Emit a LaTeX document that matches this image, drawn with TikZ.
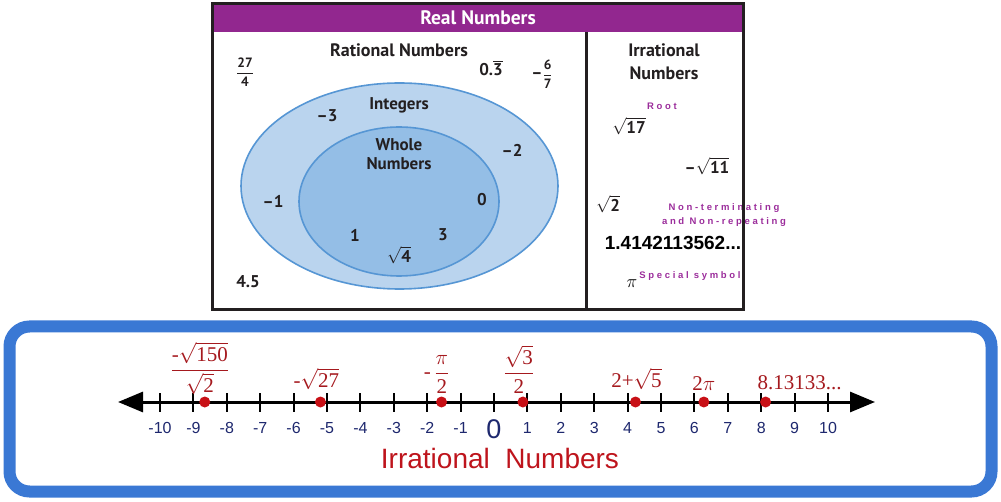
\RequirePackage{fix-cm}
\documentclass[tikz,border=0pt]{standalone}
\usepackage{amsmath}
\usepackage{fontspec}
\setmainfont{Liberation Sans}
\newfontfamily\ptsans{PT Sans}
\newfontfamily\tnr{Liberation Serif}
\newfontfamily\spaced[LetterSpace=28]{Liberation Sans}
\usetikzlibrary{
  shapes.geometric,
  arrows.meta,
  positioning
}
\definecolor{realpurple}{RGB}{146,39,143}
\definecolor{framegray}{RGB}{35,31,32}
\definecolor{setblue}{RGB}{86,150,212}
\definecolor{intfill}{RGB}{186,212,238}
\definecolor{wholefill}{RGB}{148,190,230}
\definecolor{inkblack}{RGB}{35,31,32}
\definecolor{tagpurple}{RGB}{155,45,155}
\definecolor{lineblue}{RGB}{58,120,212}
\definecolor{labred}{RGB}{165,25,30}
\definecolor{dotred}{RGB}{200,16,22}
\definecolor{navyblue}{RGB}{30,40,110}
\definecolor{titlered}{RGB}{190,20,28}
\newcommand{\pxsize}[2]{\fontsize{#1}{#2}\selectfont}
\tikzset{
  realframe/.style={draw=framegray, line width=3pt},
  headbar/.style={fill=realpurple},
  setE/.style={
    ellipse, draw=setblue, line width=1.6pt, inner sep=0pt
  },
  intset/.style={
    setE, fill=intfill, minimum width=317pt, minimum height=206pt
  },
  wholeset/.style={
    setE, fill=wholefill, minimum width=200pt, minimum height=149pt
  },
  btxt/.style={
    font=\ptsans\bfseries\pxsize{17}{19}, text=inkblack,
    inner sep=1pt, align=center
  },
  ttl/.style={btxt, font=\ptsans\bfseries\pxsize{18}{23}},
  fracbox/.style={btxt, font=\ptsans\bfseries\pxsize{13.5}{14}},
  tagtxt/.style={
    font=\spaced\bfseries\pxsize{9.5}{14}, text=tagpurple,
    inner sep=0pt, align=center
  },
  bluebox/.style={draw=lineblue, line width=12pt, rounded corners=20pt},
  numline/.style={
    line width=3pt,
    {Triangle[length=25pt,width=20pt]}-{Triangle[length=25pt,width=20pt]}
  },
  tickmark/.style={line width=2pt},
  ticknum/.style={font=\pxsize{16}{16}, text=navyblue, inner sep=0pt},
  dotmark/.style={circle, fill=dotred, minimum size=11pt, inner sep=0pt},
  irrlab/.style={font=\tnr\pxsize{21}{21}, text=labred, inner sep=1pt}
}

\begin{document}
\begin{tikzpicture}[x=1pt, y=-1pt]
  \useasboundingbox (0,0) rectangle (1001,502);

  \fill[headbar] (213,4) rectangle (742,32);
  \node[btxt, text=white, font=\ptsans\bfseries\pxsize{19.5}{20}]
    (hdr) at (478,18) {Real Numbers};

  \node[intset] (intE) at (399.5,186) {};
  \node[wholeset] (wholeE) at (399,201.5) {};

  \node[ttl] (ratT) at (399,50) {Rational Numbers};
  \node[ttl] (irrT) at (664,61.5) {Irrational\\Numbers};
  \node[fracbox] (q27) at (245,72) {$\dfrac{\textbf{27}}{\textbf{4}}$};
  \node[btxt] (q03) at (491,68) {$\textbf{0.}\overline{\textbf{3}}$};
  \node[btxt] (q67) at (542,74)
    {\pxsize{17}{19}\textendash\pxsize{13.5}{14}$\dfrac{\textbf{6}}{\textbf{7}}$};

  \node[btxt] (intT) at (399,105) {Integers};
  \node[btxt] (m3) at (327,116) {\textendash3};
  \node[btxt] (m2) at (512,150) {\textendash2};
  \node[btxt] (m1) at (273,201) {\textendash1};
  \node[btxt] (wholeT) at (399,154) {Whole\\Numbers};
  \node[btxt] (z0) at (482,200) {0};
  \node[btxt] (w1) at (355,235) {1};
  \node[btxt] (w3) at (443,235) {3};
  \node[btxt] (r4) at (399,255) {$\sqrt{\textbf{4}}$};
  \node[btxt] (d45) at (248,282) {4.5};

  \node[tagtxt] (root) at (662,106) {Root};
  \node[btxt] (s17) at (629,126) {$\sqrt{\textbf{17}}$};
  \node[btxt] (s11) at (707,166) {\textendash$\sqrt{\textbf{11}}$};
  \node[btxt] (s2) at (608,204) {$\sqrt{\textbf{2}}$};
  \node[tagtxt] (nonrep) at (724,215) {Non-terminating\\and Non-repeating};
  \node[font=\bfseries\pxsize{19}{19}, text=black, inner sep=0pt]
    (dec) at (673,243) {1.4142113562...};
  \node[tagtxt] (special) at (690,276) {Special symbol};
  \node[font=\pxsize{18}{18}, inner sep=0pt] (pisym) at (632,284) {$\pi$};

  \draw[realframe] (212.5,3.5) rectangle (743,309.5);
  \draw[realframe] (586,32) -- (586,309);

  \draw[bluebox] (9.5,326.5) rectangle (991.5,491.5);

  \coordinate (lend) at (118,402);
  \coordinate (rend) at (875,402);
  \draw[numline] (lend) -- (rend);
  \foreach \k in {-10,...,10}{
    \pgfmathsetmacro\xk{494+33.4*\k}
    \draw[tickmark] (\xk,393) -- (\xk,412);
    \ifnum\k=0
      \node[ticknum, font=\pxsize{27}{27}] (n\k) at (\xk,429) {0};
    \else
      \node[ticknum] (n\k) at (\xk,428) {\k};
    \fi
  }
  \foreach \v [count=\i] in {-8.660,-5.196,-1.571,0.866,4.236,6.283,8.131}
    \node[dotmark] (pt\i) at ({494+33.4*\v},402) {};

  \node[irrlab, above=0pt of pt1, xshift=-5pt]
    (lb1) {$\dfrac{\text{-}\sqrt{\text{150}}}{\sqrt{\text{2}}}$};
  \node[irrlab, above=5pt of pt2, xshift=-4pt]
    (lb2) {$\text{-}\sqrt{\text{27}}$};
  \node[irrlab, above=2pt of pt3, xshift=-5pt]
    (lb3) {-\,$\dfrac{\pi}{\text{2}}$};
  \node[irrlab, above=2pt of pt4, xshift=-4pt]
    (lb4) {$\dfrac{\sqrt{\text{3}}}{\text{2}}$};
  \node[irrlab, above=5pt of pt5, xshift=1pt]
    (lb5) {$\text{2+}\sqrt{\text{5}}$};
  \node[irrlab, above=5pt of pt6]
    (lb6) {$\text{2}\pi$};
  \node[irrlab, above=5pt of pt7, xshift=34pt]
    (lb7) {8.13133...};

  \node[font=\pxsize{28}{28}, text=titlered, inner sep=0pt]
    (irrname) at (500,458) {Irrational\ \ Numbers};
\end{tikzpicture}
\end{document}
